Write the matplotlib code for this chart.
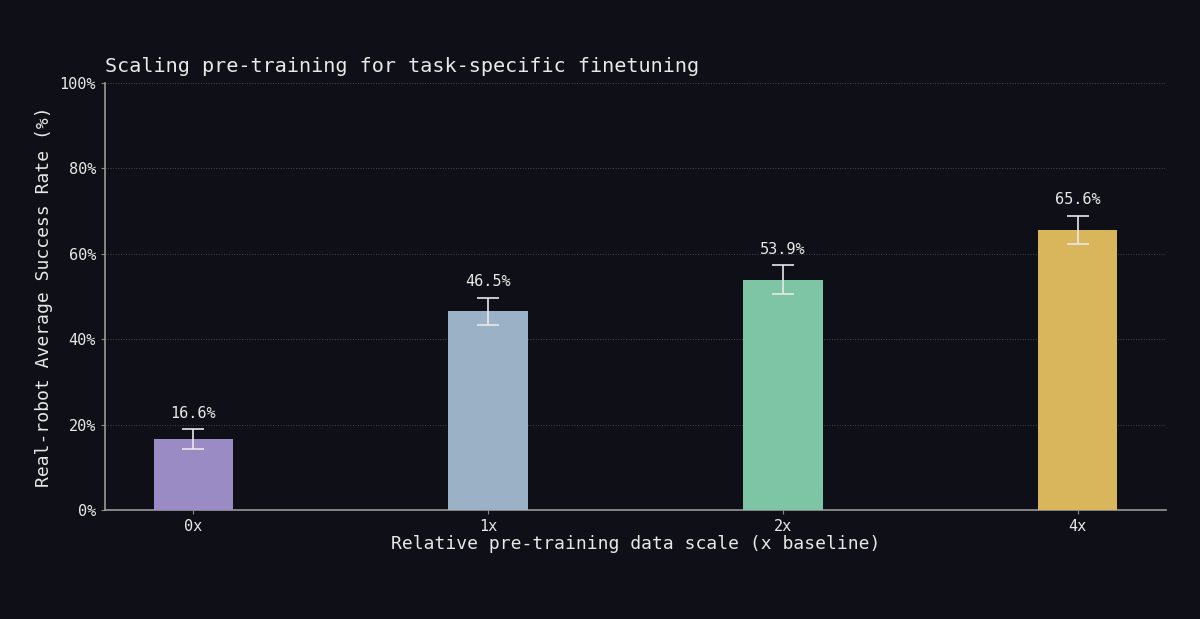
import matplotlib
matplotlib.use("Agg")
import matplotlib.pyplot as plt
import numpy as np

categories = ["0x", "1x", "2x", "4x"]
success = [16.6, 46.5, 53.9, 65.6]
errors = [2.3, 3.2, 3.4, 3.3]
colors = ["#9b8bc5", "#9bb1c5", "#7ec5a5", "#d9b55c"]
yticks = [0, 20, 40, 60, 80, 100]

bg = "#0f0f17"
plt.rcParams['font.family'] = ['DejaVu Sans Mono']
fig = plt.figure(figsize=(12, 6.19), dpi=100, facecolor=bg)
ax = fig.add_axes([105/1200, 1-510/619, (1166-105)/1200, (510-83)/619])
ax.set_facecolor(bg)

x = np.arange(len(categories))
ax.bar(x, success, width=0.27, color=colors, zorder=3)
ax.errorbar(x, success, yerr=errors, fmt='none', ecolor='#e8e8e8', elinewidth=1.2, capsize=8, capthick=1.2, zorder=4)
for xi, v, e in zip(x, success, errors):
    ax.text(xi, v + e + 2.0, f"{v:.1f}%", ha='center', va='bottom', color='#e8e8e8', fontsize=11)

ax.set_xlim(-0.3, 3.3)
ax.set_ylim(0, 100)
ax.set_xticks(x)
ax.set_xticklabels(categories)
ax.set_yticks(yticks)
ax.set_yticklabels([f"{t}%" for t in yticks])
ax.tick_params(labelsize=11, length=3)
ax.tick_params(axis='x', colors='#888888', labelcolor='#e8e8e8')
ax.tick_params(axis='y', colors='#888888', labelcolor='#e8e8e8')
ax.grid(axis='y', color='#44444e', linestyle=':', linewidth=0.7, zorder=0)
for s in ['top', 'right']:
    ax.spines[s].set_visible(False)
for s in ['left', 'bottom']:
    ax.spines[s].set_color('#9a9a9a')
    ax.spines[s].set_linewidth(1.2)

ax.set_xlabel("Relative pre-training data scale (x baseline)", color='#e8e8e8', fontsize=13, labelpad=1)
ax.set_ylabel("Real-robot Average Success Rate (%)", color='#e8e8e8', fontsize=13)
ax.yaxis.set_label_coords(-0.049, 0.5)
ax.set_title("Scaling pre-training for task-specific finetuning", color='#e8e8e8', fontsize=14.5, loc='left', pad=8)

fig.savefig("out.png", dpi=100, facecolor=bg)
